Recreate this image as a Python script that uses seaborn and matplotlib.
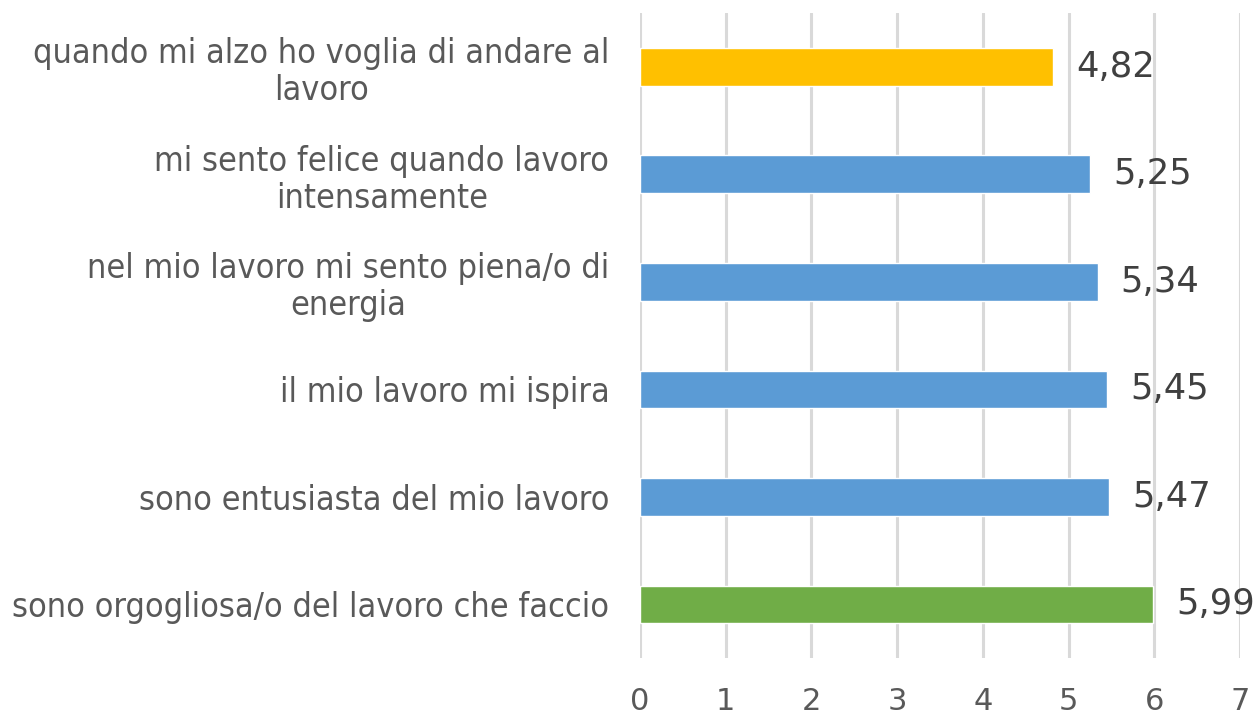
import matplotlib
matplotlib.use("Agg")
import matplotlib.pyplot as plt
import seaborn as sns
import pandas as pd

categories = [
    "quando mi alzo ho voglia di andare al\nlavoro",
    "mi sento felice quando lavoro\nintensamente",
    "nel mio lavoro mi sento piena/o di\nenergia",
    "il mio lavoro mi ispira",
    "sono entusiasta del mio lavoro",
    "sono orgogliosa/o del lavoro che faccio",
]
values = [4.82, 5.25, 5.34, 5.45, 5.47, 5.99]
colors = ["#FFC000", "#5B9BD5", "#5B9BD5", "#5B9BD5", "#5B9BD5", "#70AD47"]
x_ticks = [0, 1, 2, 3, 4, 5, 6, 7]

df = pd.DataFrame({"item": categories, "score": values})

sns.set_style("white")
plt.rcParams["font.family"] = ["Liberation Sans Narrow", "DejaVu Sans"]

fig = plt.figure(figsize=(12.57, 7.17), dpi=100)
ax = fig.add_axes([0.509, 0.082, 0.4775, 0.9])

sns.barplot(data=df, x="score", y="item", hue="item", palette=colors,
            saturation=1, legend=False, width=0.35, ax=ax, zorder=3)

# etichette dei valori con la virgola decimale
for i, v in enumerate(values):
    ax.annotate(f"{v:.2f}".replace(".", ","), (v, i), xytext=(23, 0),
                textcoords="offset pixels", va="center", ha="left",
                fontsize=25.5, color="#404040", family=["DejaVu Sans"], zorder=4)

ax.set_xlim(0, 7)
ax.set_ylim(5.5, -0.5)
ax.set_xticks(x_ticks)
ax.set_xticklabels([str(t) for t in x_ticks], fontsize=22, color="#595959",
                   family=["DejaVu Sans"])
ax.tick_params(axis="x", length=0, pad=21)
ax.tick_params(axis="y", length=0, pad=22)
for lbl in ax.get_yticklabels():
    lbl.set_fontsize(24.5)
    lbl.set_color("#595959")
    lbl.set_fontstretch("condensed")
    lbl.set_multialignment("center")
    lbl.set_linespacing(1.15)
ax.set_xlabel("")
ax.set_ylabel("")
ax.grid(axis="x", color="#D9D9D9", linewidth=2.2, zorder=0)
for s in ax.spines.values():
    s.set_visible(False)

fig.savefig("out.png", dpi=100)
